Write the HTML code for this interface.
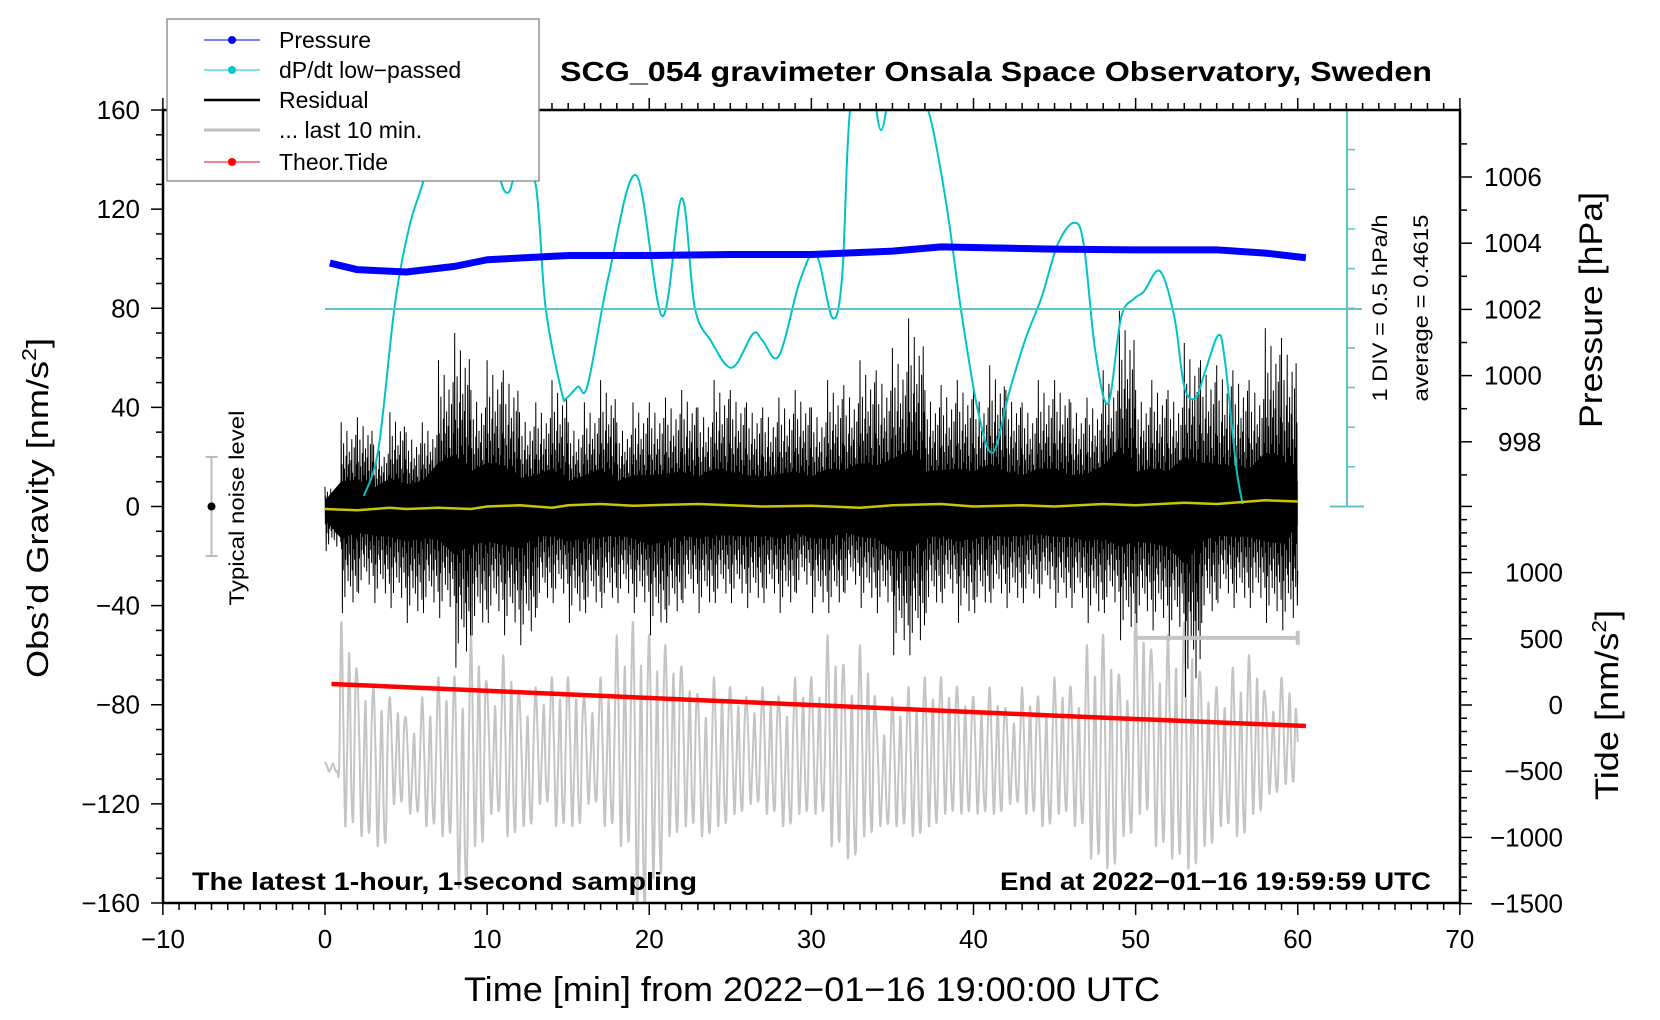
<!DOCTYPE html>
<html><head><meta charset="utf-8">
<style>
html,body{margin:0;padding:0;background:#fff;}
svg{display:block;font-family:"Liberation Sans",sans-serif;}
</style></head>
<body>
<svg id="chart" width="1660" height="1020" viewBox="0 0 1660 1020">
<defs><clipPath id="plotclip"><rect x="163" y="110" width="1297" height="793"/></clipPath></defs>
<g id="gray-layer" clip-path="url(#plotclip)"></g>
<g id="res-layer" clip-path="url(#plotclip)"></g>
<g id="cyan-layer" clip-path="url(#plotclip)"></g>
<g id="top-layer" clip-path="url(#plotclip)"></g>
<g id="axes"></g>
<text x="996" y="81" font-size="28" font-weight="bold" text-anchor="middle" textLength="872" lengthAdjust="spacingAndGlyphs">SCG_054 gravimeter Onsala Space Observatory, Sweden</text>
<text x="192" y="890" font-size="25" font-weight="bold" textLength="505" lengthAdjust="spacingAndGlyphs">The latest 1‑hour, 1‑second sampling</text>
<text x="1431" y="890" font-size="25" font-weight="bold" text-anchor="end" textLength="431" lengthAdjust="spacingAndGlyphs">End at 2022−01−16 19:59:59 UTC</text>
<text x="812" y="1001" font-size="34" text-anchor="middle" textLength="696" lengthAdjust="spacingAndGlyphs">Time [min] from 2022−01−16 19:00:00 UTC</text>
<text transform="translate(48,508) rotate(-90)" font-size="31" text-anchor="middle" textLength="340" lengthAdjust="spacingAndGlyphs">Obs’d Gravity [nm/s<tspan font-size="20" dy="-12">2</tspan><tspan dy="12">]</tspan></text>
<text transform="translate(1602,310) rotate(-90)" font-size="32" text-anchor="middle" textLength="236" lengthAdjust="spacingAndGlyphs">Pressure [hPa]</text>
<text transform="translate(1618,705) rotate(-90)" font-size="32" text-anchor="middle" textLength="190" lengthAdjust="spacingAndGlyphs">Tide [nm/s<tspan font-size="20" dy="-12">2</tspan><tspan dy="12">]</tspan></text>
<text transform="translate(1387,308) rotate(-90)" font-size="21" text-anchor="middle" textLength="187" lengthAdjust="spacingAndGlyphs">1 DIV = 0.5 hPa/h</text>
<text transform="translate(1428,308) rotate(-90)" font-size="21" text-anchor="middle" textLength="187" lengthAdjust="spacingAndGlyphs">average = 0.4615</text>
<text transform="translate(244,508) rotate(-90)" font-size="21" text-anchor="middle" textLength="195" lengthAdjust="spacingAndGlyphs">Typical noise level</text>
<g>
<rect x="167" y="19" width="372" height="162" fill="#fff" stroke="#777" stroke-width="1.2"/>
<g><line x1="204" y1="40" x2="260" y2="40" stroke="#0000ff" stroke-width="1"/><circle cx="232" cy="40" r="4" fill="#0000ff"/><text x="279" y="48" font-size="23">Pressure</text></g>
<g><line x1="204" y1="70" x2="260" y2="70" stroke="#00c8c8" stroke-width="1"/><circle cx="232" cy="70" r="4" fill="#00c8c8"/><text x="279" y="78" font-size="23">dP/dt low−passed</text></g>
<g><line x1="204" y1="100" x2="260" y2="100" stroke="#000" stroke-width="2.5"/><text x="279" y="108" font-size="23">Residual</text></g>
<g><line x1="204" y1="130" x2="260" y2="130" stroke="#c0c0c0" stroke-width="3"/><text x="279" y="138" font-size="23">... last 10 min.</text></g>
<g><line x1="204" y1="162" x2="260" y2="162" stroke="#ff0000" stroke-width="1"/><circle cx="232" cy="162" r="4" fill="#ff0000"/><text x="279" y="170" font-size="23">Theor.Tide</text></g>
</g>
</svg>
<script>
// ---- data ----
const resMinutes = [0,1,2,3,4,5,6,7,8,9,10,11,12,13,14,15,16,17,18,19,20,21,22,23,24,25,26,27,28,29,30,31,32,33,34,35,36,37,38,39,40,41,42,43,44,45,46,47,48,49,50,51,52,53,54,55,56,57,58,59,60];
const resHigh = [8,34,36,25,38,30,34,59,70,47,59,55,38,42,51,34,42,51,34,42,42,44,47,40,51,47,42,40,44,47,40,51,49,59,55,64,76,47,49,51,47,57,47,42,51,51,42,44,55,79,47,51,47,66,59,57,55,51,72,68,34];
const resLow = [-18,-43,-35,-39,-41,-47,-43,-45,-65,-52,-47,-52,-56,-41,-39,-47,-43,-41,-39,-43,-52,-47,-39,-43,-39,-39,-41,-39,-43,-35,-43,-43,-35,-41,-43,-60,-60,-43,-39,-47,-43,-39,-41,-39,-37,-41,-41,-47,-43,-54,-47,-50,-54,-77,-47,-39,-41,-41,-47,-50,-26];
const grayHigh = [-103,-47,-69,-73,-77,-86,-77,-69,-69,-52,-73,-60,-77,-73,-69,-69,-77,-69,-52,-47,-52,-56,-65,-77,-69,-73,-77,-73,-77,-69,-69,-52,-65,-56,-86,-77,-73,-69,-69,-73,-77,-73,-82,-73,-77,-69,-73,-56,-52,-69,-43,-60,-52,-47,-69,-73,-65,-60,-77,-69,-95];
const grayLow = [-107,-129,-133,-137,-120,-124,-129,-133,-154,-137,-124,-133,-129,-120,-129,-129,-120,-129,-137,-163,-150,-133,-129,-133,-129,-124,-120,-124,-129,-124,-124,-137,-142,-133,-129,-129,-133,-129,-124,-124,-124,-124,-120,-124,-129,-124,-129,-142,-146,-133,-124,-137,-142,-146,-137,-129,-133,-124,-116,-112,-107];
const cyanT = [2.4,3.3,4.3,5.2,6.1,7.2,8.5,10.0,10.7,11.3,12.0,13.0,13.6,14.6,14.9,15.6,16.2,17.5,19.2,20.8,22.0,22.8,23.8,25.1,26.4,27.0,28.0,29.3,30.3,31.3,31.9,32.4,33.5,34.3,35.2,36.3,37.2,38.3,39.3,40.3,41.2,42.2,43.2,44.2,45.2,46.2,46.8,47.5,48.3,49.1,49.9,50.5,51.5,52.4,53.0,53.7,54.3,55.1,55.5,56.2,56.6];
const cyanV = [-1.9,-1.3,0.5,1.5,2.1,3.0,3.6,3.2,2.2,1.93,2.3,2.02,0.49,-0.59,-0.66,-0.52,-0.50,0.88,2.15,0.37,1.86,0.49,0.06,-0.28,0.15,0.06,-0.13,0.82,1.15,0.35,0.88,3.0,3.6,2.72,3.6,3.0,2.97,1.82,0.35,-0.85,-1.35,-0.59,0.08,0.61,1.28,1.55,1.28,-0.05,-0.73,0.35,0.59,0.68,0.94,0.35,-0.52,-0.66,-0.32,0.13,-0.18,-1.52,-2.0];
const pressT = [0.3,2,5,8,10,15,20,25,30,35,38,42,45,50,55,58,60.5];
const pressV = [1003.4,1003.2,1003.13,1003.3,1003.5,1003.63,1003.63,1003.66,1003.66,1003.76,1003.89,1003.85,1003.82,1003.8,1003.8,1003.7,1003.56];
const tideT = [0.4,15,30,45,60.5];
const tideV = [159,80,0,-80,-159];
const yellowT = [0,2,4,5,7,9,10,12,14,15,17,19,20,23,25,27,30,33,35,38,40,43,45,48,50,53,55,57,58,60];
const yellowV = [-1,-1.5,-0.5,-1,-0.5,-1,0,0.5,-0.5,0.5,1,0.3,0.5,1,0.5,0,0.3,-0.5,0.5,1,0,0.5,0,1,0.5,1.5,1,2,2.5,2];
const xTicks = [-10,0,10,20,30,40,50,60,70];
const yTicks = [160,120,80,40,0,-40,-80,-120,-160];
const pTicks = [1006,1004,1002,1000,998];
const tideTicks = [1000,500,0,-500,-1000,-1500];

// ---- scales ----
const X = t => 325 + t*16.2125;
const Y = g => 506.5 - g*2.478;
const P = p => 177 - (p-1006)*33.1;
const TD = v => 705 - v*0.1324;
const DP = v => 309 - (v-0.4615)*79.2;
const NS = 'http://www.w3.org/2000/svg';
function mk(tag, attrs, parent){const e=document.createElementNS(NS,tag);for(const k in attrs)e.setAttribute(k,attrs[k]);parent.appendChild(e);return e;}
function smooth(pts){let d='M'+pts[0][0]+','+pts[0][1];for(let i=0;i<pts.length-1;i++){const p0=pts[i-1]||pts[i],p1=pts[i],p2=pts[i+1],p3=pts[i+2]||p2;const c1x=p1[0]+(p2[0]-p0[0])/6,c1y=p1[1]+(p2[1]-p0[1])/6,c2x=p2[0]-(p3[0]-p1[0])/6,c2y=p2[1]-(p3[1]-p1[1])/6;d+=' C'+c1x.toFixed(1)+','+c1y.toFixed(1)+' '+c2x.toFixed(1)+','+c2y.toFixed(1)+' '+p2[0].toFixed(1)+','+p2[1].toFixed(1);}return d;}
const axes=document.getElementById('axes');

// gray last-10 series
const gpat=[1,0.1,-1,-0.2,0.7,-0.6,-0.9,0.4];
let gp=[];
for(let i=0;i<resMinutes.length;i++){const n=(i===resMinutes.length-1)?1:gpat.length;for(let k=0;k<n;k++){const t=resMinutes[i]+k/gpat.length;const f=(gpat[k]+1)/2;const hi=grayHigh[i],lo=grayLow[i];gp.push([X(t),Y(lo+f*(hi-lo))]);}}
const gl=mk('path',{d:smooth(gp),fill:'none',stroke:'#c4c4c4','stroke-width':2,'stroke-linejoin':'round'},document.getElementById('gray-layer'));



// residual
const rl=document.getElementById('res-layer');
let core=[],coreB=[];
for(let i=0;i<resMinutes.length;i++){core.push(X(resMinutes[i])+','+Y(resHigh[i]*0.3));coreB.unshift(X(resMinutes[i])+','+Y(resLow[i]*0.3));}
const cp=mk('polygon',{points:core.concat(coreB).join(' '),fill:'#000'},rl);


const rpat=[1,-0.4,0.5,-1,0.3,-0.6,0.75,-0.3,0.45,-0.85,0.2,-0.5,0.6,-0.35,0.9,-0.55,0.35,-0.7,0.5,-0.25,0.65,-0.45,0.3,-0.75,0.55,-0.2,0.8,-0.6,0.4,-0.9,0.25,-0.4,0.7,-0.5,0.35,-0.65,0.85,-0.3,0.5,-0.8];
let rp=[];
for(let i=0;i<resMinutes.length-1;i++){for(let k=0;k<rpat.length;k++){const t=resMinutes[i]+k/rpat.length;const a=rpat[k]>0?resHigh[i]*rpat[k]:-resLow[i]*rpat[k];rp.push(X(t).toFixed(1)+','+Y(a).toFixed(1));}}
rp.push(X(60)+','+Y(resLow[60]));
const rline=mk('polyline',{points:rp.join(' '),fill:'none',stroke:'#000','stroke-width':1},rl);



// cyan dP/dt
const cl=document.getElementById('cyan-layer');
const cyl=mk('path',{d:smooth(cyanT.map((t,i)=>[X(t),DP(cyanV[i])])),fill:'none',stroke:'#00c4c4','stroke-width':2,'stroke-linejoin':'round'},cl);



const tl=document.getElementById('top-layer');
const yl=mk('polyline',{points:yellowT.map((t,i)=>X(t)+','+Y(yellowV[i])).join(' '),fill:'none',stroke:'#c8c800','stroke-width':2.5},tl);


const pl=mk('polyline',{points:pressT.map((t,i)=>X(t)+','+P(pressV[i])).join(' '),fill:'none',stroke:'#0000ff','stroke-width':7,'stroke-linejoin':'round'},tl);


const rdl=mk('polyline',{points:tideT.map((t,i)=>X(t)+','+TD(tideV[i])).join(' '),fill:'none',stroke:'#ff0000','stroke-width':4.5},tl);



// cyan DIV axis + average line
const avg=mk('line',{x1:X(0),y1:DP(0.4615),x2:1362,y2:DP(0.4615),stroke:'#5cc4c4','stroke-width':2},axes);


const dax=mk('line',{x1:1347,y1:110,x2:1347,y2:506.5,stroke:'#5cc4c4','stroke-width':2},axes);


for(let k=0;k<=10;k++){const yy=110+k*39.65;const full=(k===0||k===10);mk('line',{x1:full?1330:1347,y1:yy,x2:full?1364:1355,y2:yy,stroke:'#5cc4c4','stroke-width':full?2:1.5},axes);}

// gray error bar (last 10 min)
const eb=mk('g',{},axes);


mk('line',{x1:X(50),y1:Y(-53),x2:X(60),y2:Y(-53),stroke:'#c4c4c4','stroke-width':4},eb);
mk('line',{x1:X(50),y1:Y(-53)-7,x2:X(50),y2:Y(-53)+7,stroke:'#c4c4c4','stroke-width':4},eb);
mk('line',{x1:X(60),y1:Y(-53)-7,x2:X(60),y2:Y(-53)+7,stroke:'#c4c4c4','stroke-width':4},eb);
// noise level bar
const nb=mk('g',{},axes);


mk('line',{x1:X(-7),y1:Y(20),x2:X(-7),y2:Y(-20),stroke:'#bbb','stroke-width':2},nb);
mk('line',{x1:X(-7)-6,y1:Y(20),x2:X(-7)+6,y2:Y(20),stroke:'#bbb','stroke-width':2},nb);
mk('line',{x1:X(-7)-6,y1:Y(-20),x2:X(-7)+6,y2:Y(-20),stroke:'#bbb','stroke-width':2},nb);
mk('circle',{cx:X(-7),cy:Y(0),r:4,fill:'#000'},nb);

// frame
const fr=mk('rect',{x:163,y:110,width:1297,height:793,fill:'none',stroke:'#000','stroke-width':2.5},axes);


// x ticks
for(let t=-10;t<=70;t++){const mj=t%10===0;const L=mj?12:7;mk('line',{x1:X(t),y1:903,x2:X(t),y2:903+L,stroke:'#000','stroke-width':1.5},axes);mk('line',{x1:X(t),y1:110,x2:X(t),y2:110-L,stroke:'#000','stroke-width':1.5},axes);}
xTicks.forEach(t=>{const e=mk('text',{x:X(t),y:948,'font-size':26,'text-anchor':'middle'},axes);e.textContent=(t<0?'−':'')+Math.abs(t);

});
// y ticks
for(let g=-160;g<=160;g+=10){const mj=g%40===0;mk('line',{x1:163,y1:Y(g),x2:163-(mj?12:7),y2:Y(g),stroke:'#000','stroke-width':1.5},axes);}
yTicks.forEach(g=>{const e=mk('text',{x:140,y:Y(g)+9,'font-size':26,'text-anchor':'end'},axes);e.textContent=(g<0?'−':'')+Math.abs(g);

});
// pressure ticks
for(let p=997;p<=1007;p++){const mj=p%2===0;mk('line',{x1:1460,y1:P(p),x2:1460+(mj?12:7),y2:P(p),stroke:'#000','stroke-width':1.5},axes);}
pTicks.forEach(p=>{const e=mk('text',{x:p<1000?1498:1484,y:P(p)+9,'font-size':26},axes);e.textContent=p;

});
// tide ticks
for(let v=-1500;v<=1500;v+=100){const mj=v%500===0;mk('line',{x1:1460,y1:TD(v),x2:1460+(mj?12:7),y2:TD(v),stroke:'#000','stroke-width':1.5},axes);}
tideTicks.forEach(v=>{const e=mk('text',{x:1563,y:TD(v)+9,'font-size':26,'text-anchor':'end'},axes);e.textContent=(v<0?'−':'')+Math.abs(v);

});
</script>
</body></html>
